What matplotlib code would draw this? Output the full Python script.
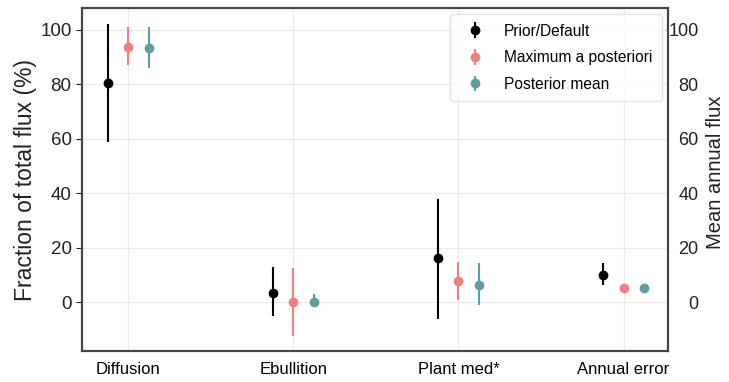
# Flux partition: prior vs posterior estimates with error bars

import numpy as np
import matplotlib.pyplot as plt

plt.rcParams['font.family'] = ['Liberation Sans', 'DejaVu Sans']

categories = ["Diffusion", "Ebullition", "Plant med*", "Annual error"]

prior_val = [80.4, 3.3, 16.0, 10.1]
prior_lo = [58.8, -5.3, -6.3, 6.1]
prior_hi = [102.2, 13.0, 37.9, 14.3]

map_val = [93.7, 0.0, 7.6, 5.1]
map_lo = [87.1, -12.4, 0.6, 5.1]
map_hi = [101.0, 12.4, 14.8, 5.1]

pm_val = [93.3, 0.0, 6.3, 5.1]
pm_lo = [86.1, -2.0, -1.1, 5.1]
pm_hi = [101.0, 3.0, 14.3, 5.1]

series = [
    ("Prior/Default", prior_val, prior_lo, prior_hi, "black", -0.125),
    ("Maximum a posteriori", map_val, map_lo, map_hi, "#f08080", 0.0),
    ("Posterior mean", pm_val, pm_lo, pm_hi, "#5f9ea0", 0.125),
]

fig = plt.figure(figsize=(7.29, 3.82), dpi=100)
ax = fig.add_axes([0.1125, 0.081, 0.804, 0.898])

x = np.arange(len(categories))
for name, val, lo, hi, col, off in series:
    val = np.array(val)
    err = [val - np.array(lo), np.array(hi) - val]
    ax.errorbar(x + off, val, yerr=err, fmt="o", color=col, ecolor=col,
                markersize=6, elinewidth=1.5, capsize=0, label=name, zorder=3)

ax.set_xlim(-0.28, 3.27)
ax.set_ylim(-18, 108)
ax.set_yticks([0, 20, 40, 60, 80, 100])
ax.set_xticks(x)
ax.set_xticklabels(categories, fontsize=12)
ax.tick_params(axis="y", labelsize=13.5, colors="#222222", length=4.5, pad=3)
ax.tick_params(axis="x", length=0, pad=8)
ax.grid(True, color="#ebebeb", linewidth=0.8, zorder=0)
ax.set_axisbelow(True)
ax.set_ylabel("Fraction of total flux (%)", fontsize=16.5, color="#222222",
              labelpad=2)
for s in ax.spines.values():
    s.set_color("#444444")
    s.set_linewidth(1.5)

ax2 = ax.twinx()
ax2.set_ylim(-18, 108)
ax2.set_yticks([0, 20, 40, 60, 80, 100])
ax2.tick_params(axis="y", labelsize=13, colors="#222222", length=0, pad=22)
for lbl in ax2.get_yticklabels():
    lbl.set_horizontalalignment("right")
for s in ax2.spines.values():
    s.set_color("#444444")
    s.set_linewidth(1.5)
fig.text(0.982, 0.55, "Mean annual flux", rotation=90, fontsize=14.5,
         color="#222222", ha="center", va="center")

leg = ax.legend(loc="upper right", fontsize=11.2, frameon=True, borderpad=0.6,
                handletextpad=0.9, labelspacing=0.75, borderaxespad=0.4)
leg.get_frame().set_edgecolor("#dddddd")

plt.savefig("out.png", dpi=100)
